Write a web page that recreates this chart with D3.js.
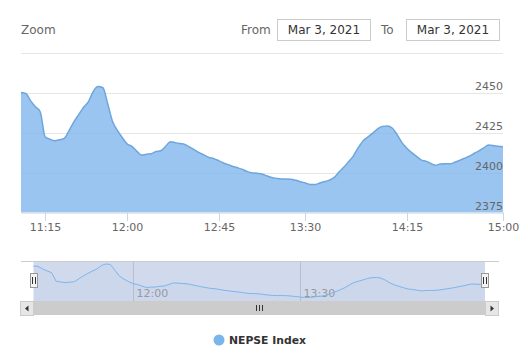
<!DOCTYPE html>
<html>
<head>
<meta charset="utf-8">
<script src="https://cdn.jsdelivr.net/npm/d3@7/dist/d3.min.js"></script>
<style>
  body { margin: 0; background: #fff; }
  svg { font-family: "DejaVu Sans", sans-serif; }
</style>
</head>
<body>
<div id="chart"></div>
<script>
// intraday NEPSE index, Mar 3 2021 (ordinal x axis: points equally spaced)
var times = [
  "11:00","11:03","11:06","11:09","11:12","11:15",
  "11:18","11:21","11:23","11:26","11:29","11:31","11:34","11:37","11:39","11:42","11:45","11:47","11:50","11:53","11:55","11:58","12:00",
  "12:02","12:05","12:07","12:09","12:12","12:14","12:16","12:19","12:21","12:23","12:26","12:28","12:30","12:33","12:35","12:37","12:40","12:42","12:45",
  "12:47","12:50","12:52","12:55","12:57","13:00","13:02","13:05","13:07","13:10","13:12","13:15","13:17","13:20","13:22","13:25","13:27","13:30",
  "13:32","13:34","13:36","13:39","13:41","13:43","13:45","13:47","13:50","13:52","13:54","13:56","13:58","14:01","14:03","14:05","14:07","14:09","14:11","14:13","14:15",
  "14:17","14:19","14:21","14:24","14:26","14:28","14:30","14:33","14:35","14:37","14:39","14:42","14:44","14:46","14:48","14:51","14:53","14:55","14:57","15:00"
];
var values = [
  2450.2, 2449.6, 2445.0, 2441.3, 2438.0, 2422.5, 2421.0, 2420.0, 2420.6, 2421.5,
  2426.5, 2432.0, 2436.5, 2441.0, 2444.5, 2451.0, 2454.0, 2453.2, 2443.0, 2432.0,
  2426.5, 2422.0, 2418.0, 2416.5, 2413.5, 2411.0, 2411.5, 2411.8, 2413.2, 2413.7,
  2416.5, 2419.4, 2418.8, 2418.2, 2417.6, 2416.0, 2414.3, 2412.5, 2411.0, 2409.5,
  2408.8, 2407.5, 2406.0, 2405.0, 2403.8, 2403.0, 2402.0, 2400.6, 2399.8, 2399.6,
  2399.1, 2398.0, 2397.0, 2396.4, 2396.0, 2396.0, 2395.9, 2395.2, 2394.3, 2393.5,
  2392.6, 2392.5, 2393.5, 2394.4, 2395.3, 2397.0, 2400.5, 2403.5, 2407.0, 2410.7,
  2415.8, 2420.0, 2422.5, 2424.8, 2427.5, 2429.0, 2429.3, 2428.0, 2424.0, 2419.0,
  2415.5, 2412.7, 2410.3, 2408.0, 2407.2, 2405.8, 2404.6, 2405.4, 2405.5, 2405.5,
  2406.5, 2407.7, 2409.0, 2410.3, 2412.0, 2413.6, 2415.5, 2417.3, 2417.0, 2416.5,
  2416.3
];
var xTickLabels = ["11:15", "12:00", "12:45", "13:30", "14:15", "15:00"];
var navTickLabels = ["12:00", "13:30"];
var yTicks = [2375, 2400, 2425, 2450, 2475];
var yLabelTicks = [2375, 2400, 2425, 2450];
var seriesName = "NEPSE Index";
var dateFrom = "Mar 3, 2021";
var dateTo = "Mar 3, 2021";

var W = 528, H = 355;
var color = "#7cb5ec";

var svg = d3.select("#chart").append("svg")
    .attr("width", W).attr("height", H);

// ---------- range selector ----------
svg.append("text").attr("x", 21).attr("y", 34)
    .attr("font-size", 12).attr("fill", "#666").text("Zoom");
svg.append("text").attr("x", 241).attr("y", 34)
    .attr("font-size", 12).attr("fill", "#666").text("From");
svg.append("text").attr("x", 381).attr("y", 34)
    .attr("font-size", 12).attr("fill", "#666").text("To");
[[277.5, dateFrom], [406.5, dateTo]].forEach(function (b) {
    svg.append("rect").attr("x", b[0]).attr("y", 19.5)
        .attr("width", 93).attr("height", 21)
        .attr("fill", "#fff").attr("stroke", "#ccc");
    svg.append("text").attr("x", b[0] + 46.5).attr("y", 34)
        .attr("text-anchor", "middle").attr("font-size", 12)
        .attr("fill", "#333").text(b[1]);
});

// ---------- main chart ----------
var x = d3.scaleLinear().domain([0, values.length - 1]).range([21, 503]);
var y = d3.scaleLinear().domain([2375, 2475]).range([212.5, 53]);

svg.append("g").selectAll("line").data(yTicks).enter().append("line")
    .attr("x1", 21).attr("x2", 503)
    .attr("y1", function (d) { return Math.round(y(d)) + 0.5; })
    .attr("y2", function (d) { return Math.round(y(d)) + 0.5; })
    .attr("stroke", "#e6e6e6");

var area = d3.area()
    .x(function (d, i) { return x(i); })
    .y0(y(2375))
    .y1(function (d) { return y(d); })
    .curve(d3.curveMonotoneX);
var line = d3.line()
    .x(function (d, i) { return x(i); })
    .y(function (d) { return y(d); })
    .curve(d3.curveMonotoneX);

svg.append("path").datum(values).attr("d", area)
    .attr("fill", color).attr("fill-opacity", 0.78);
svg.append("path").datum(values).attr("d", line)
    .attr("fill", "none").attr("stroke", "#6ea6dc").attr("stroke-width", 1.5);

// x axis
var xTicks = svg.append("g").selectAll("g").data(xTickLabels).enter().append("g")
    .attr("transform", function (d) { return "translate(" + (Math.round(x(times.indexOf(d))) + 0.5) + ",0)"; });
xTicks.append("line").attr("y1", 212.5).attr("y2", 221).attr("stroke", "#ccd6eb");
xTicks.append("text").attr("y", 231).attr("text-anchor", "middle")
    .attr("font-size", 11).attr("fill", "#666").text(function (d) { return d; });

// y labels (inside plot, right)
svg.append("g").selectAll("text").data(yLabelTicks).enter().append("text")
    .attr("x", 503).attr("y", function (d) { return y(d) - 3; })
    .attr("text-anchor", "end").attr("font-size", 11).attr("fill", "#666")
    .text(function (d) { return d; });

// ---------- navigator ----------
var nx = d3.scaleLinear().domain([0, values.length - 1]).range([33.5, 485]);
var ny = d3.scaleLinear().domain(d3.extent(values)).range([297.5, 264]);

svg.append("rect").attr("x", 33.5).attr("y", 261).attr("width", 451.5).attr("height", 40)
    .attr("fill", "rgba(102,133,194,0.3)");

var navG = svg.append("g").selectAll("g").data(navTickLabels).enter().append("g")
    .attr("transform", function (d) { return "translate(" + (Math.round(nx(times.indexOf(d))) + 0.5) + ",0)"; });
navG.append("line").attr("y1", 261).attr("y2", 301).attr("stroke", "#b8bfcf");
navG.append("text").attr("x", 3).attr("y", 297).attr("font-size", 11)
    .attr("fill", "#999").text(function (d) { return d; });

svg.append("path").datum(values)
    .attr("d", d3.area().x(function (d, i) { return nx(i); }).y0(301)
        .y1(function (d) { return ny(d); }))
    .attr("fill", color).attr("fill-opacity", 0.05);
svg.append("path").datum(values)
    .attr("d", d3.line().x(function (d, i) { return nx(i); }).y(function (d) { return ny(d); }))
    .attr("fill", "none").attr("stroke", color).attr("stroke-width", 1);

svg.append("line").attr("x1", 21).attr("x2", 499).attr("y1", 261.5).attr("y2", 261.5)
    .attr("stroke", "#ccc");

// handles
[33.5, 485].forEach(function (hx) {
    var g = svg.append("g").attr("transform", "translate(" + Math.round(hx) + ",0)");
    g.append("rect").attr("x", -3.5).attr("y", 273.5).attr("width", 7).attr("height", 14)
        .attr("fill", "#f2f2f2").attr("stroke", "#999");
    g.append("line").attr("x1", -1.5).attr("x2", -1.5).attr("y1", 277).attr("y2", 284).attr("stroke", "#333");
    g.append("line").attr("x1", 1.5).attr("x2", 1.5).attr("y1", 277).attr("y2", 284).attr("stroke", "#333");
});

// scrollbar
svg.append("rect").attr("x", 21).attr("y", 301).attr("width", 478).attr("height", 14)
    .attr("fill", "#f2f2f2");
svg.append("rect").attr("x", 33.5).attr("y", 301).attr("width", 451.5).attr("height", 14)
    .attr("fill", "#ccc");
[[20.5, -1], [485.5, 1]].forEach(function (b) {
    svg.append("rect").attr("x", b[0]).attr("y", 301.5).attr("width", 13).attr("height", 14)
        .attr("fill", "#e6e6e6").attr("stroke", "#ccc");
    var cx = b[0] + 6.5, cy = 308.5;
    svg.append("path")
        .attr("d", "M" + (cx - 1.5 * b[1]) + "," + (cy - 3) + "L" + (cx + 2 * b[1]) + "," + cy +
            "L" + (cx - 1.5 * b[1]) + "," + (cy + 3) + "Z")
        .attr("fill", "#333");
});
[-3, 0, 3].forEach(function (o) {
    svg.append("line").attr("x1", 259.5 + o).attr("x2", 259.5 + o)
        .attr("y1", 305).attr("y2", 311).attr("stroke", "#333");
});

// ---------- legend ----------
svg.append("circle").attr("cx", 219).attr("cy", 340).attr("r", 5.5).attr("fill", color);
svg.append("text").attr("x", 229).attr("y", 344).attr("font-size", 10.8)
    .attr("font-weight", "bold").attr("fill", "#333").text(seriesName);
</script>
</body>
</html>
